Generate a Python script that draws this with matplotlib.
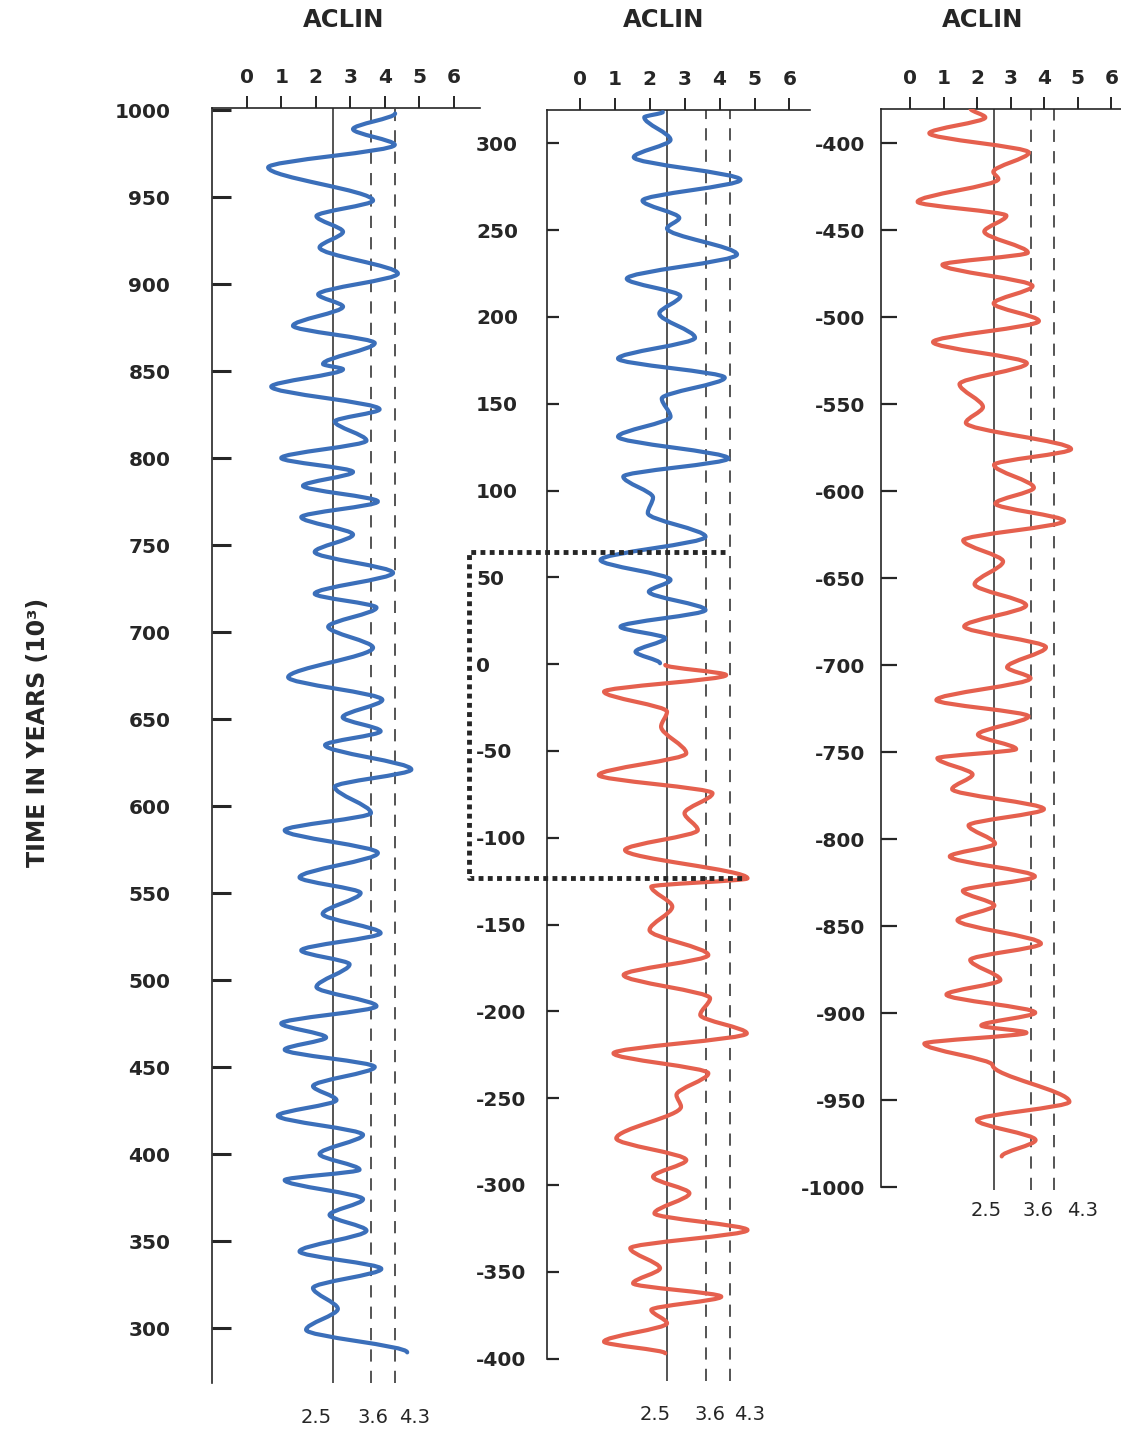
import numpy as np
import matplotlib
matplotlib.use("Agg")
import matplotlib.pyplot as plt
from matplotlib.path import Path
from matplotlib.patches import PathPatch

plt.rcParams['font.family'] = ['DejaVu Sans']
plt.rcParams['font.weight'] = 'bold'

# ---- data (turning points of the ACLIN curves) ----
# panel 1, 1000 .. 285 kyr (blue)
p1_time = [998, 989, 980, 967, 948, 939, 930, 921, 906, 894, 887, 876, 866, 854, 851,
           841, 828, 821, 810, 800, 792, 784, 775, 766, 756, 746, 734, 722, 714, 703,
           691, 674, 661, 651, 643, 635, 621, 611, 596, 586, 573, 559, 550, 538, 527,
           517, 509, 496, 485, 475, 467, 460, 450, 439, 431, 422, 411, 400, 391, 385,
           374, 365, 356, 344, 334, 323, 311, 299, 286]
p1_aclin = [4.3, 3.08, 4.29, 0.62, 3.66, 2.02, 2.79, 2.11, 4.38, 2.07, 2.79, 1.34, 3.71, 2.21, 2.79,
            0.71, 3.85, 2.55, 3.47, 1.0, 3.08, 1.63, 3.8, 1.58, 3.08, 1.97, 4.24, 1.97, 3.76, 2.36,
            3.66, 1.2, 3.93, 2.78, 3.88, 2.27, 4.77, 2.55, 3.6, 1.1, 3.8, 1.53, 3.3, 2.2, 3.88,
            1.58, 2.98, 2.02, 3.76, 1.0, 2.3, 1.1, 3.71, 1.92, 2.6, 0.9, 3.37, 2.11, 3.27, 1.1,
            3.37, 2.4, 3.47, 1.53, 3.9, 1.92, 2.64, 1.72, 4.65]

# panel 2, blue part 318 .. 0
p2b_time = [318, 315, 302, 292, 279, 267, 257, 251, 236, 222, 212, 202, 188, 176, 165,
            153, 142.5, 131, 118.5, 108, 96, 87, 73.4, 60, 48.5, 41.7, 31.2, 21.5, 14.9, 7.1, 0.5]
p2b_aclin = [2.38, 1.85, 2.6, 1.55, 4.6, 1.8, 2.85, 2.5, 4.5, 1.35, 2.88, 2.28, 3.3, 1.1, 4.15,
             2.35, 2.6, 1.1, 4.25, 1.25, 2.1, 1.95, 3.6, 0.6, 2.6, 1.98, 3.6, 1.17, 2.45, 1.6, 2.3]

# panel 2, red part 0 .. -397
p2r_time = [-0.5, -6.3, -15.9, -27.4, -36, -51.4, -63.9, -74.4, -85.9, -95.6, -107.1, -123.4,
            -128.2, -139.7, -153.2, -167.6, -179.1, -192.5, -202.1, -212.7, -224.2, -235.7,
            -248.2, -255, -273.2, -285.7, -295.3, -304.8, -316.4, -326, -336.5, -348, -356.7,
            -364.4, -372, -379.7, -390.3, -397]
p2r_aclin = [2.45, 4.19, 0.7, 2.5, 2.33, 3.05, 0.55, 3.8, 3.0, 3.38, 1.3, 4.8,
             2.05, 2.65, 2.0, 3.68, 1.26, 3.73, 3.45, 4.78, 0.97, 3.68,
             2.77, 2.9, 1.05, 3.05, 2.1, 3.14, 2.14, 4.8, 1.45, 2.3, 1.53,
             4.05, 2.05, 2.5, 0.7, 2.45]

# panel 3, -380 .. -982 (red)
p3_time = [-380.3, -385.3, -394.4, -405.5, -416.6, -420.7, -433.8, -441.8, -450.9, -463, -470,
           -482.2, -492.2, -502.3, -514.4, -526.6, -538.6, -551.7, -560.8, -575.9, -585, -598.1,
           -607.2, -617.2, -628.4, -640.5, -653.6, -665.7, -677.8, -689.8, -701.3, -707.6, -720.1,
           -729.5, -740, -748.3, -753.6, -762.9, -771.3, -782.8, -792.2, -802.6, -810, -821.5,
           -829.8, -838.2, -846.6, -860.1, -869.5, -881, -889.4, -899.8, -907.2, -911.3, -917.6,
           -930, -951, -961.5, -973, -982.4]
p3_aclin = [1.8, 2.24, 0.57, 3.54, 2.48, 2.63, 0.22, 2.87, 2.21, 3.51, 0.96,
            3.65, 2.49, 3.84, 0.68, 3.48, 1.47, 2.17, 1.66, 4.8, 2.5, 3.69,
            2.54, 4.59, 1.58, 2.77, 1.92, 3.46, 1.61, 4.05, 2.89, 3.59, 0.78,
            3.53, 2.02, 3.16, 0.81, 1.86, 1.25, 3.99, 1.74, 2.53, 1.18, 3.72,
            1.57, 2.51, 1.41, 3.9, 1.79, 2.69, 1.08, 3.73, 2.12, 3.47, 0.42,
            2.46, 4.75, 1.99, 3.74, 2.73]

ref_lines = [2.5, 3.6, 4.3]
x_ticks = [0, 1, 2, 3, 4, 5, 6]
p1_yticks = list(range(300, 1001, 50))
p2_yticks = list(range(-400, 301, 50))
p3_yticks = list(range(-1000, -399, 50))

box_top, box_bottom = 64.7, -123.4

BLUE = '#3b6fba'
RED = '#e5604e'
INK = '#262626'

W, H = 1121, 1435
fig = plt.figure(figsize=(W / 100, H / 100), dpi=100)


def panel(left, right, top, bottom):
    return fig.add_axes([left / W, 1 - bottom / H, (right - left) / W, (bottom - top) / H])


def smooth(xs, ts, k=0.3):
    # cubic pieces between turning points, vertical tangent at each point
    verts = [(xs[0], ts[0])]
    codes = [Path.MOVETO]
    for i in range(len(xs) - 1):
        dt = ts[i + 1] - ts[i]
        verts += [(xs[i], ts[i] + k * dt), (xs[i + 1], ts[i + 1] - k * dt), (xs[i + 1], ts[i + 1])]
        codes += [Path.CURVE4] * 3
    return Path(verts, codes)


def style(ax, yticks, tick_len, tick_w, pad, xlim, ylim):
    ax.set_xlim(*xlim)
    ax.set_ylim(*ylim)
    for s in ['right', 'bottom']:
        ax.spines[s].set_visible(False)
    for s in ['left', 'top']:
        ax.spines[s].set_color(INK)
        ax.spines[s].set_linewidth(1.2)
    ax.xaxis.tick_top()
    ax.set_xticks(x_ticks)
    ax.tick_params(axis='x', direction='out', length=9, width=1.4, pad=6,
                   labelsize=14.5, colors=INK)
    ax.set_yticks(yticks, labels=[str(v) for v in yticks])
    ax.tick_params(axis='y', direction='in', length=tick_len, width=tick_w, pad=pad,
                   labelsize=14.5, colors=INK)
    ax.patch.set_visible(False)
    for i, v in enumerate(ref_lines):
        ax.axvline(v, color=INK, lw=1.1, ls='-' if i == 0 else (0, (8, 6)), zorder=1)


def bottom_labels(ax, xs, y):
    for v, xv in zip(ref_lines, xs):
        ax.text(xv, y, str(v), ha='center', va='center', fontsize=14, fontweight='normal',
                color=INK, clip_on=False)


# panel 1
ax1 = panel(212, 480, 108, 1383)
style(ax1, p1_yticks, 14, 2.2, 30, (-1.007, 6.76), (268.4, 1001.15))
ax1.add_patch(PathPatch(smooth(p1_aclin, p1_time), fc='none', ec=BLUE, lw=3.0,
                        capstyle='round', joinstyle='round', zorder=3))
bottom_labels(ax1, [2.0, 3.65, 4.85], 248.3)

# panel 2
ax2 = panel(547, 810, 110, 1381)
style(ax2, p2_yticks, 8.5, 1.6, 51, (-0.93, 6.586), (-412.96, 319.2))
plt.setp(ax2.get_yticklabels(), ha='left')
ax2.spines['left'].set_bounds(-400, 319.2)
ax2.add_patch(PathPatch(smooth(p2b_aclin, p2b_time), fc='none', ec=BLUE, lw=3.0,
                        capstyle='round', joinstyle='round', zorder=3))
ax2.add_patch(PathPatch(smooth(p2r_aclin, p2r_time), fc='none', ec=RED, lw=3.0,
                        capstyle='round', joinstyle='round', zorder=3))
ax2.plot([4.15, -3.16, -3.16, 4.75], [box_top, box_top, box_bottom, box_bottom],
         color=INK, lw=3.5, ls=(0, (1, 0.9)), clip_on=False, zorder=4)
bottom_labels(ax2, [2.15, 3.72, 4.85], -432.5)

# panel 3
ax3 = panel(881, 1121, 109, 1190)
style(ax3, p3_yticks, 11.5, 1.6, 11, (-0.873, 6.29), (-1001.7, -380.46))
ax3.spines['left'].set_bounds(-1000, -380.46)
ax3.add_patch(PathPatch(smooth(p3_aclin, p3_time), fc='none', ec=RED, lw=3.0,
                        capstyle='round', joinstyle='round', zorder=3))
bottom_labels(ax3, [2.26, 3.82, 5.13], -1013.2)

for xc in [344, 664, 983]:
    fig.text(xc / W, 1 - 20 / H, 'ACLIN', ha='center', va='center', fontsize=17.5,
             fontweight='bold', color=INK)

fig.text(38 / W, 1 - 732 / H, 'TIME IN YEARS (10³)', rotation=90, ha='center', va='center',
         fontsize=17, fontweight='bold', color=INK)

fig.savefig('out.png', dpi=100, facecolor='white')
